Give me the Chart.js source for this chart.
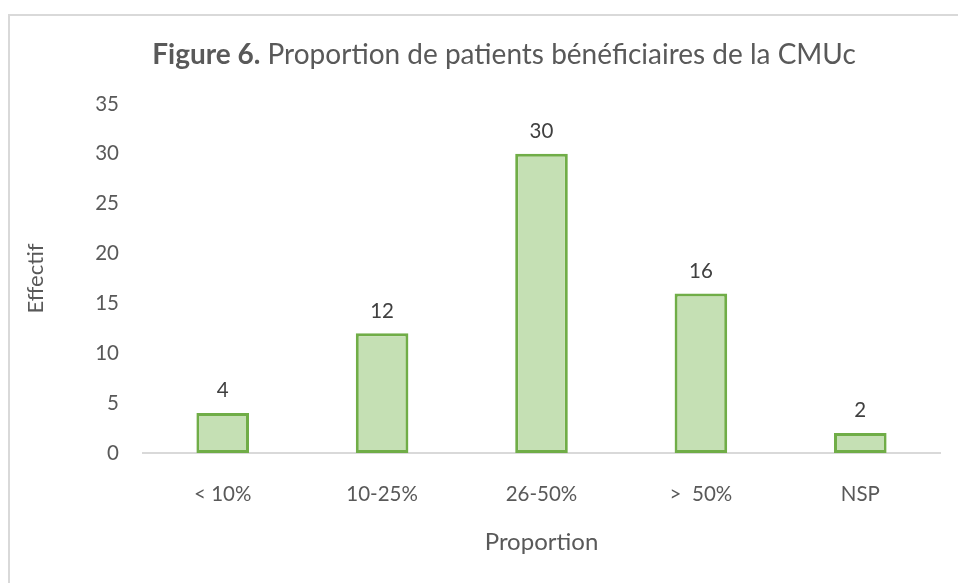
<!DOCTYPE html>
<html>
<head>
<meta charset="utf-8">
<script src="https://cdn.jsdelivr.net/npm/chart.js@4.4.1/dist/chart.umd.min.js"></script>
<style>
  body { margin: 0; background: #fff; }
  #wrap { position: relative; width: 958px; height: 583px; overflow: hidden; }
  #frame { position: absolute; left: 8px; top: 14px; width: 960px; height: 580px; border: 2px solid #d9d9d9; box-sizing: border-box; }
  #myChart { position: absolute; left: 0; top: 0; }
</style>
</head>
<body>
<div id="wrap">
  <div id="frame"></div>
  <canvas id="myChart" width="958" height="583"></canvas>
</div>
<script>
var categories = ['< 10%', '10-25%', '26-50%', '>  50%', 'NSP'];
var values = [4, 12, 30, 16, 2];
var yTicks = [0, 5, 10, 15, 20, 25, 30, 35];

var FONT = 'Lato, "Open Sans", sans-serif';

// title with bold "Figure 6." part
var titlePlugin = {
  id: 'mixedTitle',
  afterDraw: function (chart) {
    var ctx = chart.ctx;
    var bold = 'Figure 6.';
    var rest = ' Proportion de patients bénéficiaires de la CMUc';
    ctx.save();
    ctx.textBaseline = 'alphabetic';
    ctx.fillStyle = '#595959';
    ctx.font = 'bold 28px ' + FONT;
    var w1 = ctx.measureText(bold).width;
    ctx.font = '28px ' + FONT;
    var w2 = ctx.measureText(rest).width;
    var x = 504 - (w1 + w2) / 2;
    ctx.font = 'bold 28px ' + FONT;
    ctx.fillText(bold, x, 64);
    ctx.font = '28px ' + FONT;
    ctx.fillText(rest, x + w1, 64);
    ctx.restore();
  }
};

// value labels on top of bars
var valueLabels = {
  id: 'valueLabels',
  afterDatasetsDraw: function (chart) {
    var ctx = chart.ctx;
    var meta = chart.getDatasetMeta(0);
    ctx.save();
    ctx.fillStyle = '#404040';
    ctx.font = '20.5px ' + FONT;
    ctx.textAlign = 'center';
    ctx.textBaseline = 'bottom';
    meta.data.forEach(function (bar, i) {
      ctx.fillText(values[i], bar.x, bar.y - 12);
    });
    ctx.restore();
  }
};

var ctx = document.getElementById('myChart');
var chart = new Chart(ctx, {
  type: 'bar',
  data: {
    labels: categories,
    datasets: [{
      data: values,
      backgroundColor: '#c5e0b4',
      borderColor: '#70ad47',
      borderWidth: 3,
      borderSkipped: false,
      categoryPercentage: 1,
      barPercentage: 0.33
    }]
  },
  options: {
    responsive: false,
    animation: false,
    layout: { padding: { top: 104, right: 18, left: 0, bottom: 0 } },
    plugins: {
      legend: { display: false },
      title: { display: false },
      tooltip: { enabled: false }
    },
    scales: {
      x: {
        grid: { display: false, drawTicks: false },
        border: { display: true, color: '#d9d9d9', width: 2 },
        ticks: { color: '#595959', font: { family: FONT, size: 20.5 }, padding: 29 },
        title: { display: true, text: 'Proportion', color: '#595959', font: { family: FONT, size: 24 }, padding: { top: 0, bottom: 26 } },
        afterFit: function (s) { s.height = 130; }
      },
      y: {
        min: 0,
        max: 35,
        afterBuildTicks: function (s) { s.ticks = yTicks.map(function (v) { return { value: v }; }); },
        grid: { display: false, drawTicks: false },
        border: { display: false },
        ticks: { color: '#595959', font: { family: FONT, size: 20.5 }, padding: 24 },
        title: { display: true, text: 'Effectif', color: '#595959', font: { family: FONT, size: 22 }, padding: { top: 23, bottom: 0 } },
        afterFit: function (s) { s.width = 143; }
      }
    }
  },
  plugins: [titlePlugin, valueLabels]
});
</script>
</body>
</html>
